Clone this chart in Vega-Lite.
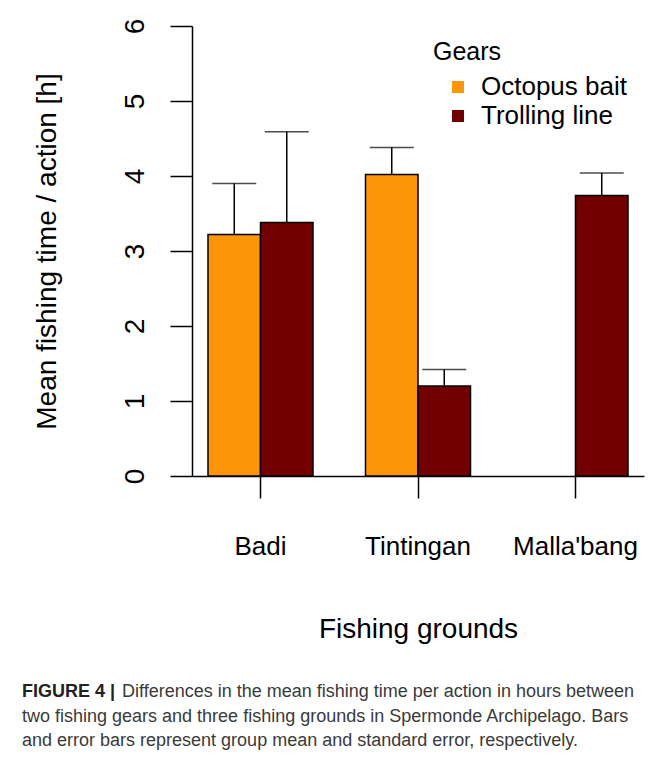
{
  "$schema": "https://vega.github.io/schema/vega-lite/v6.json",
  "width": 452,
  "height": 450,
  "autosize": {"type": "none"},
  "padding": {"left": 192, "top": 26, "right": 11, "bottom": 282},
  "background": "white",
  "config": {"view": {"stroke": null}, "font": "Liberation Sans"},
  "data": {
    "values": [
      {"ground": "Badi", "gear": "Octopus bait", "mean": 3.22, "upper": 3.90},
      {"ground": "Badi", "gear": "Trolling line", "mean": 3.38, "upper": 4.59},
      {"ground": "Tintingan", "gear": "Octopus bait", "mean": 4.02, "upper": 4.38},
      {"ground": "Tintingan", "gear": "Trolling line", "mean": 1.20, "upper": 1.42},
      {"ground": "Malla'bang", "gear": "Trolling line", "mean": 3.74, "upper": 4.04}
    ]
  },
  "encoding": {
    "x": {
      "field": "ground",
      "type": "nominal",
      "sort": ["Badi", "Tintingan", "Malla'bang"],
      "scale": {"paddingInner": 0.3333, "paddingOuter": 0.1016},
      "axis": {
        "title": "Fishing grounds",
        "labelAngle": 0,
        "labelFontSize": 26,
        "labelColor": "black",
        "labelPadding": 35,
        "tickSize": 22,
        "tickWidth": 1.5,
        "tickColor": "black",
        "domainColor": "black",
        "domainWidth": 1.5,
        "titleFontSize": 28,
        "titleFontWeight": "normal",
        "titleColor": "black",
        "titleY": 161,
        "titleBaseline": "alphabetic"
      }
    },
    "xOffset": {
      "field": "gear",
      "type": "nominal",
      "scale": {"domain": ["Octopus bait", "Trolling line"], "paddingInner": 0, "paddingOuter": 0}
    }
  },
  "layer": [
    {
      "mark": {"type": "bar", "stroke": "black", "strokeWidth": 1.5},
      "encoding": {
        "y": {
          "field": "mean",
          "type": "quantitative",
          "scale": {"domain": [0, 6], "nice": false},
          "axis": {
            "title": "Mean fishing time / action [h]",
            "values": [0, 1, 2, 3, 4, 5, 6],
            "format": "d",
            "grid": false,
            "domainColor": "black",
            "domainWidth": 1.5,
            "tickColor": "black",
            "tickWidth": 1.5,
            "tickSize": 22,
            "labelAngle": -90,
            "labelAlign": "center",
            "labelBaseline": "alphabetic",
            "labelPadding": 27,
            "labelFontSize": 28,
            "labelColor": "black",
            "labelFlush": false,
            "labelOverlap": false,
            "titleFontSize": 28,
            "titleFontWeight": "normal",
            "titleColor": "black",
            "titleAngle": 270,
            "titleX": -137,
            "titleY": 225,
            "titleBaseline": "alphabetic",
            "titleAlign": "center"
          }
        },
        "color": {
          "field": "gear",
          "type": "nominal",
          "scale": {"domain": ["Octopus bait", "Trolling line"], "range": ["#FD940A", "#730000"]},
          "legend": {
            "title": "Gears",
            "orient": "none",
            "legendX": 241,
            "legendY": 14,
            "symbolType": "square",
            "symbolSize": 144,
            "symbolStrokeWidth": 0,
            "symbolStrokeColor": "transparent",
            "symbolOpacity": 1,
            "titleFontSize": 25,
            "titleFontWeight": "normal",
            "titleColor": "black",
            "labelFontSize": 26,
            "labelColor": "black",
            "labelOffset": 10,
            "symbolOffset": 12,
            "rowPadding": 3,
            "titlePadding": 9
          }
        }
      }
    },
    {
      "mark": {"type": "rule", "color": "black", "strokeWidth": 1.5},
      "encoding": {
        "y": {"field": "mean", "type": "quantitative", "title": "Mean fishing time / action [h]"},
        "y2": {"field": "upper"}
      }
    },
    {
      "mark": {"type": "tick", "color": "black", "thickness": 1.5, "size": 44},
      "encoding": {
        "y": {"field": "upper", "type": "quantitative", "title": "Mean fishing time / action [h]"}
      }
    }
  ],
  "title": {
    "text": "FIGURE 4 |",
    "subtitle": [
      "\u200b\u00a0\u00a0\u00a0\u00a0\u00a0\u00a0\u00a0\u00a0\u00a0\u00a0\u00a0\u00a0\u00a0\u00a0\u00a0\u00a0\u00a0\u00a0\u00a0\u00a0Differences in the mean fishing time per action in hours between",
      "two fishing gears and three fishing grounds in Spermonde Archipelago. Bars",
      "and error bars represent group mean and standard error, respectively."
    ],
    "orient": "bottom",
    "anchor": "start",
    "frame": "group",
    "align": "left",
    "dx": -170,
    "offset": 40,
    "font": "Liberation Sans",
    "fontSize": 18,
    "fontWeight": "bold",
    "color": "#222222",
    "subtitleFont": "Liberation Sans",
    "subtitleFontSize": 18,
    "subtitleFontWeight": "normal",
    "subtitleColor": "#3a3a3a",
    "subtitlePadding": -18,
    "subtitleLineHeight": 24.5
  }
}
